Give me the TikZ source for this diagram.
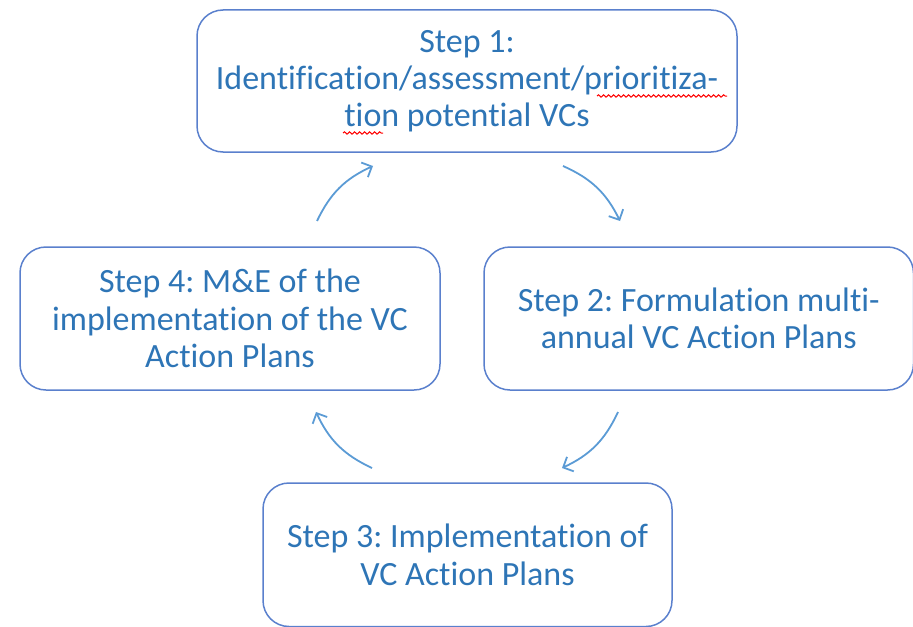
\documentclass[tikz,border=0pt]{standalone}
\usepackage{fontspec}
\setmainfont[Ligatures=NoCommon]{Carlito}
\usetikzlibrary{positioning,arrows.meta,decorations.pathmorphing}

\definecolor{stepblue}{RGB}{46,117,182}
\definecolor{boxline}{RGB}{90,128,205}
\definecolor{arrowblue}{RGB}{91,155,213}

\tikzset{
  stepbox/.style={draw=boxline, line width=0.75pt, rounded corners=13pt, text=stepblue,
    align=center, font=\fontsize{17}{18.6}\selectfont, inner sep=0pt},
  flow/.style={draw=arrowblue, line width=0.9pt, -{Straight Barb[length=4pt,width=8pt]}, bend left=20},
  typo/.style={draw=red, line width=0.5pt, decorate,
    decoration={snake, amplitude=0.6pt, segment length=2.5pt}}
}

\begin{document}
\frenchspacing
\begin{tikzpicture}[x=0.5pt,y=-0.5pt]
    \useasboundingbox (0,0) rectangle (913,626);

    % the four steps
    \node[stepbox, minimum width=270pt, minimum height=71pt] (s1) at (467,81)
        {Step 1:\\Identification/assessment/prioritiza-\\tion potential VCs};
    \node[stepbox, minimum width=214.75pt, minimum height=71.5pt] (s2) at (698.75,318.5)
        {Step 2: Formulation multi-\\annual VC Action Plans};
    \node[stepbox, minimum width=204.5pt, minimum height=71.75pt] (s3) at (467.5,554.75)
        {Step 3: Implementation of\\VC Action Plans};
    \node[stepbox, minimum width=210pt, minimum height=71.5pt] (s4) at (230,318.5)
        {Step 4: M\&E of the\\implementation of the VC\\Action Plans};

    % spell check marks
    \draw[typo] (597,96) -- (727,96);
    \draw[typo] (343,133) -- (383,133);

    % arrow ends
    \coordinate (a12s) at (563,166);
    \coordinate (a12e) at (620,221);
    \coordinate (a23s) at (618,412);
    \coordinate (a23e) at (562,468);
    \coordinate (a34s) at (372,468);
    \coordinate (a34e) at (316,412);
    \coordinate (a41s) at (317,221);
    \coordinate (a41e) at (373,166);

    \draw[flow] (a12s) to (a12e);
    \draw[flow] (a23s) to (a23e);
    \draw[flow] (a34s) to (a34e);
    \draw[flow] (a41s) to (a41e);
\end{tikzpicture}
\end{document}
